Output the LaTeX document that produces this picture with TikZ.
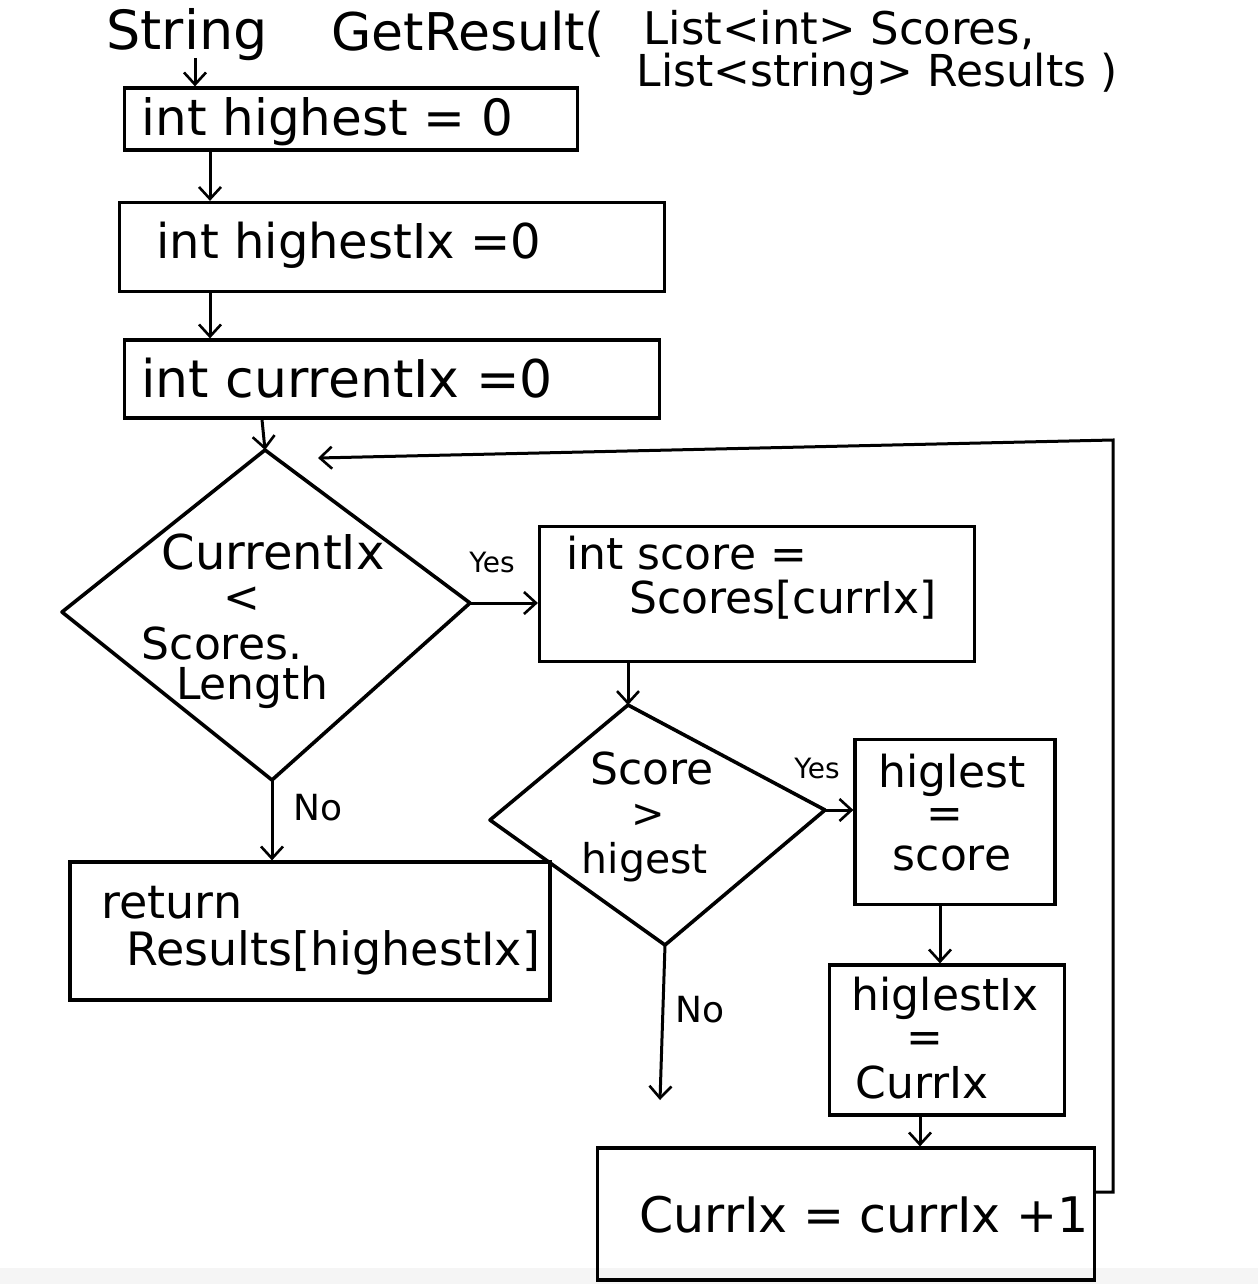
\documentclass[tikz,border=0pt]{standalone}
\usepackage{fontspec}
\setmainfont{DejaVu Sans}
\usetikzlibrary{arrows.meta}
\newcommand{\fs}[1]{\fontsize{#1}{#1}\selectfont}
\begin{document}
\begin{tikzpicture}[x=0.5pt,y=-0.5pt,
  line width=1.5pt,
  box/.style={draw,line width=1.6pt,inner sep=0pt},
  txt/.style={inner sep=0pt,anchor=west,font=\fs{22}},
  ctxt/.style={inner sep=0pt,font=\fs{22}},
  small/.style={inner sep=0pt,font=\fs{14}},
  arr/.style={-{Straight Barb[length=6pt,width=11pt,line width=1.3pt]},line width=1.5pt},
  dia/.style={line width=1.8pt,line join=round}]
\useasboundingbox (0,0) rectangle (1258,1284);
\fill[gray!8] (0,1268) rectangle (1258,1284);

% title
\node[txt,font=\fs{27}] (t1) at (105,35) {String};
\node[txt,font=\fs{26}] (t2) at (330,34) {GetResult(};
\node[txt,font=\fs{22.5}] (t3) at (642,30) {List<int> Scores,};
\node[txt,font=\fs{22}] (t4) at (635,74) {List<string> Results )};

% boxes
\node[box,minimum width=226.5pt,minimum height=31pt] (b1) at (351,119) {};
\node[txt,font=\fs{25}] (b1t) at (140,122) {int highest = 0};
\node[box,minimum width=272.5pt,minimum height=44.5pt] (b2) at (392,247) {};
\node[txt,font=\fs{24}] (b2t) at (155,245) {int highestIx =0};
\node[box,minimum width=267.5pt,minimum height=39pt] (b3) at (392,379) {};
\node[txt,font=\fs{26}] (b3t) at (140,378) {int currentIx =0};
\node[box,minimum width=217.5pt,minimum height=67.5pt] (b4) at (757,594) {};
\node[txt] (b4t1) at (565,553) {int score =};
\node[txt] (b4t2) at (628,600) {Scores[currIx]};
\node[box,minimum width=100pt,minimum height=82.5pt] (b5) at (955,822) {};
\node[ctxt] (b5t1) at (952,775) {higlest};
\node[ctxt] (b5t2) at (945,818) {=};
\node[ctxt] (b5t3) at (952,858) {score};
\node[box,minimum width=117.5pt,minimum height=75pt] (b6) at (947,1040) {};
\node[ctxt] (b6t1) at (945,998) {higlestIx};
\node[ctxt] (b6t2) at (925,1042) {=};
\node[ctxt] (b6t3) at (922,1082) {CurrIx};
\node[box,minimum width=248.5pt,minimum height=66pt] (b7) at (846,1214) {};
\node[txt,font=\fs{24.5}] (b7t) at (638,1215) {CurrIx = currIx +1};
\node[box,minimum width=240pt,minimum height=69pt] (b8) at (310,931) {};
\node[txt,font=\fs{23}] (b8t1) at (100,903) {return};
\node[txt,font=\fs{23}] (b8t2) at (125,953) {Results[highestIx]};

% diamond 1
\coordinate (d1t) at (265,450);
\coordinate (d1l) at (62,612);
\coordinate (d1r) at (470,603);
\coordinate (d1b) at (272,780);
\draw[dia] (d1t) -- (d1r) -- (d1b) -- (d1l) -- cycle;
\node[ctxt,font=\fs{24}] (d1a) at (273,552) {CurrentIx};
\node[ctxt] (d1c) at (242,600) {<};
\node[ctxt] (d1d) at (222,643) {Scores.};
\node[ctxt] (d1e) at (252,687) {Length};

% diamond 2
\coordinate (d2t) at (628,705);
\coordinate (d2l) at (490,820);
\coordinate (d2r) at (825,810);
\coordinate (d2b) at (665,945);
\draw[dia] (d2t) -- (d2r) -- (d2b) -- (d2l) -- cycle;
\node[ctxt] (d2a) at (652,768) {Score};
\node[ctxt,font=\fs{20}] (d2c) at (648,816) {>};
\node[ctxt,font=\fs{20.5}] (d2d) at (645,862) {higest};

% helper coordinates
\coordinate (c195) at (195,58);
\coordinate (c210) at (210,0);
\coordinate (c262) at (262,0);
\coordinate (c940) at (940,0);
\coordinate (c920) at (920,0);
\coordinate (noend) at (660,1100);
\coordinate (l1) at (1130,1192);
\coordinate (l2) at (1113,440);
\coordinate (l3) at (318,458);

% connectors
\draw[arr] (c195) -- (b1.north -| c195);
\draw[arr] (b1.south -| c210) -- (b2.north -| c210);
\draw[arr] (b2.south -| c210) -- (b3.north -| c210);
\draw[arr] (b3.south -| c262) -- (d1t);
\draw[arr] (d1r) -- (b4.west |- d1r);
\node[small] (y1) at (492,562) {Yes};
\draw[arr] (b4.south -| d2t) -- (d2t);
\draw[arr] (d2r) -- (b5.west |- d2r);
\node[small] (y2) at (817,768) {Yes};
\draw[arr] (b5.south -| c940) -- (b6.north -| c940);
\draw[arr] (b6.south -| c920) -- (b7.north -| c920);
\draw[arr] (d1b) -- (b8.north -| d1b);
\node[ctxt,font=\fs{18}] (n1) at (318,808) {No};
\draw[arr] (d2b) -- (noend);
\node[ctxt,font=\fs{18}] (n2) at (700,1010) {No};
\draw[arr] (b7.east |- l1) -- (l1 -| l2) -- (l2) -- (l3);
\end{tikzpicture}
\end{document}
